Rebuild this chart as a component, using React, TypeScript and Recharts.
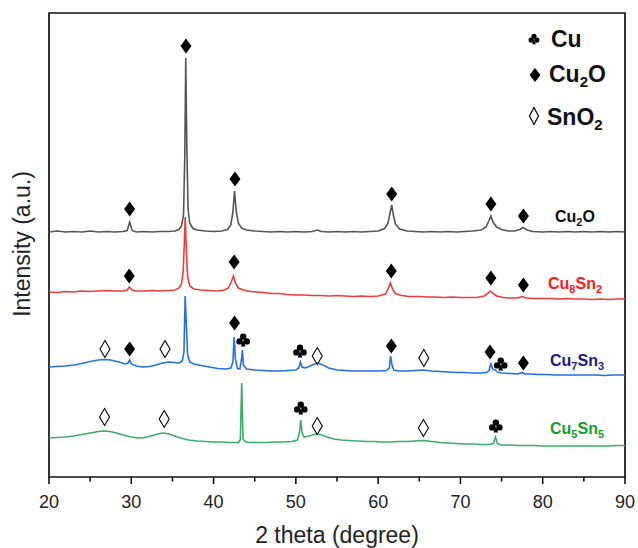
import React from 'react'
import { ComposedChart, Line, Scatter, XAxis, YAxis, ReferenceArea } from 'recharts'

// XRD patterns, stacked (intensity in a.u., offsets already included)
type Pt = [number, number]

const X_TICKS = [20, 25, 30, 35, 40, 45, 50, 55, 60, 65, 70, 75, 80, 85, 90]

const cu2o: Pt[] = [
  [20, 245], [21, 246], [22, 245], [23, 245.5], [24, 245], [25, 246], [26, 245], [27, 245.5], [28, 245], [29, 245.5],
  [29.5, 246.5], [29.8, 255], [30.1, 246.5], [30.6, 245], [31.5, 245.5], [32.5, 245], [33.5, 245.5], [34.5, 245.5],
  [35.3, 246], [35.8, 247.5], [36.1, 251], [36.35, 262], [36.5, 320], [36.62, 419], [36.75, 330], [36.9, 268],
  [37.1, 254], [37.5, 248.5], [38, 247], [39, 246], [40, 245.5], [41, 246], [41.7, 247.5], [42.1, 252], [42.35, 265],
  [42.55, 286], [42.75, 266], [43, 254], [43.4, 249], [44, 247], [45, 246], [46, 245.5], [47, 245], [48, 245.5],
  [49, 245], [50, 245.5], [51, 245], [52, 245.5], [52.6, 247], [53.1, 245.5], [54, 245], [55, 245.5], [56, 245],
  [57, 245.5], [58, 245], [59, 245.5], [60, 246], [60.8, 248.5], [61.2, 254], [61.45, 264], [61.65, 272],
  [61.85, 262], [62.1, 253], [62.6, 248], [63.5, 246], [64.5, 245.5], [65.5, 245], [66.5, 245.5], [67.5, 245],
  [68.5, 245.5], [69.5, 245], [70.5, 245.5], [71.5, 246], [72.5, 247], [73.1, 250], [73.45, 256], [73.7, 261],
  [73.95, 255], [74.4, 250], [75, 247.5], [75.8, 246], [76.6, 246], [77.2, 247.5], [77.6, 249.5], [78.1, 247],
  [78.8, 245.5], [80, 245], [81, 245.5], [82, 245], [83, 245.5], [84, 245], [85, 245.5], [86, 245], [87, 245.5],
  [88, 245], [89, 245.5], [90, 245],
]

const cu8sn2: Pt[] = [
  [20, 185], [21, 184.5], [22, 185.5], [23, 185], [24, 186], [25, 185.5], [26, 186], [27, 186.5], [28, 186], [29, 186],
  [29.5, 187], [29.75, 190], [30.1, 187], [30.6, 186], [31.5, 186], [32.5, 186.5], [33.5, 186], [34.5, 186.5],
  [35.3, 187], [35.8, 189], [36.1, 193], [36.3, 205], [36.45, 235], [36.55, 260], [36.7, 225], [36.85, 200],
  [37.1, 191], [37.6, 188], [38.5, 187], [39.5, 186.5], [40.5, 186], [41.3, 187], [41.8, 189], [42.15, 195],
  [42.42, 201], [42.65, 194], [43, 189], [43.6, 187], [44.5, 185.5], [46, 184.5], [47, 183.5], [48, 183.5],
  [49, 182.5], [50, 182], [51, 182], [52, 181.5], [53, 181.5], [54, 181], [55, 181.5], [56, 181], [57, 180.5],
  [58, 181], [59, 180.5], [60, 181], [60.9, 183], [61.25, 189], [61.5, 194], [61.75, 188], [62.1, 183.5],
  [62.8, 181.5], [63.8, 180.5], [65, 180.5], [66, 180], [67, 180], [68, 179.5], [69, 180], [70, 179.5], [71, 179.5],
  [72, 179.5], [72.9, 181], [73.4, 184], [73.65, 186], [73.9, 184], [74.4, 181], [75.2, 179.5], [76, 179],
  [77, 179], [77.5, 180.5], [78, 179], [79, 178.5], [80, 178.5], [81, 178.5], [82, 178], [83, 178.5], [84, 178],
  [85, 178], [86, 177.5], [87, 178], [88, 177.5], [89, 178], [90, 178],
]

const cu7sn3: Pt[] = [
  [20, 110], [21, 110.5], [22, 111], [23, 112], [24, 113.5], [25, 115.5], [26, 117], [26.8, 117.5], [27.5, 117],
  [28.5, 115], [29.3, 113], [29.6, 114], [29.8, 117], [30, 113], [30.6, 111], [31.4, 110], [32.2, 110.5], [33, 112],
  [33.8, 114], [34.5, 115], [35.2, 114.5], [35.8, 114], [36.2, 116], [36.4, 125], [36.55, 181], [36.7, 150],
  [36.85, 122], [37.1, 115], [37.6, 113], [38.5, 111.5], [39.5, 110], [40.5, 108.5], [41.5, 108], [42.1, 109],
  [42.35, 115], [42.5, 140], [42.65, 118], [42.9, 108.5], [43.2, 108], [43.4, 118], [43.5, 127], [43.62, 112],
  [44, 108], [45, 107], [46, 106.5], [47, 106], [48, 106], [49, 106.5], [50, 107], [50.35, 109], [50.55, 115],
  [50.75, 110], [51.2, 109], [52, 112], [52.6, 114], [53.3, 112], [54, 109], [55, 107], [56, 106.5], [57, 106],
  [58, 106], [59, 106], [60, 106], [61, 106.5], [61.35, 109], [61.52, 121], [61.68, 112], [61.9, 107], [62.5, 106],
  [63.5, 106], [64.5, 106.5], [65.5, 107], [66.5, 106], [67.5, 105.5], [68.5, 105], [69.5, 104.5], [70.5, 104.5],
  [71.5, 104], [72.5, 104], [73.2, 104.5], [73.5, 107], [73.7, 114], [73.9, 108], [74.2, 107], [74.5, 105],
  [75, 104], [76, 103.5], [77, 103], [77.5, 104.5], [77.8, 103], [78.5, 103], [79.5, 102.5], [80.5, 102.5],
  [81.5, 102], [82.5, 102], [83.5, 102], [84.5, 102], [85.5, 102], [86.5, 102], [87.5, 101.5], [88.5, 102],
  [89.5, 102], [90, 102],
]

const cu5sn5: Pt[] = [
  [20, 39], [21, 39.5], [22, 40], [23, 41], [24, 42.5], [25, 44], [26, 45.5], [26.7, 46], [27.4, 45.5], [28.2, 44],
  [29, 42], [30, 40], [30.8, 39], [31.6, 39.5], [32.4, 41], [33.2, 43], [33.9, 44], [34.6, 43], [35.4, 40.5],
  [36.2, 38.5], [37, 37], [38, 36], [39, 35.5], [40, 35], [41, 35], [42, 34.5], [43, 34.5], [43.25, 37],
  [43.42, 94], [43.58, 38], [43.9, 35], [44.5, 34.5], [45.5, 34.5], [46.5, 34.5], [47.5, 35], [48.5, 35],
  [49.5, 35.5], [50.2, 37], [50.45, 45], [50.6, 57], [50.75, 44], [51, 40], [51.6, 41], [52.4, 43], [53, 42.5],
  [53.8, 40], [54.6, 38], [55.5, 37], [56.5, 36.5], [57.5, 36], [58.5, 35.5], [59.5, 35.5], [60.5, 35], [61.5, 35],
  [62.5, 35.5], [63.5, 35.5], [64.5, 36], [65.5, 36.5], [66.5, 35.5], [67.5, 34.5], [68.5, 34], [69.5, 33.5],
  [70.5, 33], [71.5, 33], [72.5, 32.5], [73.5, 32.5], [74, 33.5], [74.25, 40], [74.5, 33.5], [75, 32], [76, 32],
  [77, 31.5], [78, 31.5], [79, 31.5], [80, 31], [81, 31], [82, 31], [83, 31], [84, 31], [85, 31], [86, 31],
  [87, 31], [88, 31], [89, 31.5], [90, 31.5],
]

// phase markers: Cu2O (filled diamond), SnO2 (open diamond), Cu (club)
const cu2oMarks: Pt[] = [
  [29.8, 268], [36.65, 431], [42.6, 298], [61.65, 283], [73.7, 273], [77.65, 261],
  [29.75, 201], [42.5, 215], [61.6, 206], [73.7, 199], [77.65, 192],
  [29.8, 128], [42.55, 154], [61.6, 131], [73.6, 125], [77.65, 114],
]
const sno2Marks: Pt[] = [
  [26.8, 128], [34.1, 128], [52.6, 121], [65.55, 119],
  [26.75, 60], [34.0, 58], [52.6, 51], [65.5, 49],
]
const cuMarks: Pt[] = [
  [43.6, 137], [50.5, 126], [74.9, 113],
  [50.6, 69], [74.3, 51],
]

const rows = (pts: Pt[]) => pts.map(([x, y]) => ({ x, y }))

const FONT = '"Liberation Sans", Arial, sans-serif'

const FilledDiamond = (p: any) => (
  <path d={`M${p.cx},${p.cy - 7.5}L${p.cx + 5.5},${p.cy}L${p.cx},${p.cy + 7.5}L${p.cx - 5.5},${p.cy}Z`} fill="#000" />
)
const OpenDiamond = (p: any) => (
  <path d={`M${p.cx},${p.cy - 8.5}L${p.cx + 5},${p.cy}L${p.cx},${p.cy + 8.5}L${p.cx - 5},${p.cy}Z`} fill="none" stroke="#000" strokeWidth={1.1} />
)
const Club = (p: any) => (
  <g transform={`translate(${p.cx},${p.cy}) scale(${p.s || 1})`} fill="#000">
    <circle cx={0} cy={-3.4} r={3.2} />
    <circle cx={-3.6} cy={1.4} r={3.2} />
    <circle cx={3.6} cy={1.4} r={3.2} />
    <path d="M0,0L-2.3,6.6L2.3,6.6Z" />
  </g>
)

const XTick = ({ x, y, payload }: any) => {
  const major = payload.value % 10 === 0
  return (
    <g>
      <line x1={x} x2={x} y1={y} y2={y + (major ? 7 : 4.5)} stroke="#000" strokeWidth={1.5} />
      {major && (
        <text x={x} y={y + 31} textAnchor="middle" fontSize={18} fontFamily={FONT} fill="#222">
          {payload.value}
        </text>
      )}
    </g>
  )
}

// chemical formula label: [[element, subscript], ...]
const SeriesLabel = ({ x, y, color, parts }: { x: number; y: number; color: string; parts: [string, string][] }) => (
  <text x={x} y={y} fill={color} fontSize={16} fontWeight="bold" fontFamily={FONT}>
    {parts.flatMap(([main, sub], i) => {
      const prevSub = i > 0 && parts[i - 1][1] !== ''
      const out = [<tspan key={`m${i}`} dy={prevSub ? -4 : 0} fontSize={16}>{main}</tspan>]
      if (sub) out.push(<tspan key={`s${i}`} dy={4} fontSize={11}>{sub}</tspan>)
      return out
    })}
  </text>
)

export default function App() {
  return (
    <div style={{ position: 'absolute', left: 0, top: 0, width: 638, height: 548, background: '#fff' }}>
      <ComposedChart width={638} height={548} margin={{ top: 13, right: 13, bottom: 0, left: 49 }}>
        <XAxis
          dataKey="x"
          type="number"
          domain={[20, 90]}
          ticks={X_TICKS}
          interval={0}
          height={71}
          axisLine={false}
          tickLine={false}
          tickSize={0}
          tickMargin={0}
          tick={<XTick />}
          allowDataOverflow
        />
        <YAxis type="number" domain={[0, 464]} hide allowDataOverflow />
        <ReferenceArea x1={20} x2={90} y1={0} y2={464} fill="none" stroke="#111" strokeWidth={1.7} ifOverflow="visible" />
        <Line data={rows(cu2o)} dataKey="y" type="linear" stroke="#555555" strokeWidth={1.6} dot={false} isAnimationActive={false} />
        <Line data={rows(cu8sn2)} dataKey="y" type="linear" stroke="#f03c3c" strokeWidth={1.6} dot={false} isAnimationActive={false} />
        <Line data={rows(cu7sn3)} dataKey="y" type="linear" stroke="#2370e0" strokeWidth={1.6} dot={false} isAnimationActive={false} />
        <Line data={rows(cu5sn5)} dataKey="y" type="linear" stroke="#3aae68" strokeWidth={1.6} dot={false} isAnimationActive={false} />
        <Scatter data={rows(cu2oMarks)} dataKey="y" shape={<FilledDiamond />} isAnimationActive={false} />
        <Scatter data={rows(sno2Marks)} dataKey="y" shape={<OpenDiamond />} isAnimationActive={false} />
        <Scatter data={rows(cuMarks)} dataKey="y" shape={<Club />} isAnimationActive={false} />
      </ComposedChart>
      <svg width={638} height={548} style={{ position: 'absolute', left: 0, top: 0, pointerEvents: 'none' }}>
        <text x={30} y={244} transform="rotate(-90 30 244)" textAnchor="middle" fontSize={23} fontFamily={FONT} fill="#222">
          Intensity (a.u.)
        </text>
        <text x={337} y={543} textAnchor="middle" fontSize={23} fontFamily={FONT} fill="#222">
          2 theta (degree)
        </text>
        {/* legend */}
        <Club cx={534} cy={39} s={0.8} />
        <text x={551} y={47} fontSize={23} fontWeight="bold" fontFamily={FONT} fill="#111">Cu</text>
        <path d="M535,68L540.5,75L535,82L529.5,75Z" fill="#000" />
        <text x={549} y={82} fontSize={23} fontWeight="bold" fontFamily={FONT} fill="#111">
          Cu<tspan dy={5} fontSize={15}>2</tspan><tspan dy={-5}>O</tspan>
        </text>
        <path d="M534,107.5L538.5,116L534,124.5L529.5,116Z" fill="none" stroke="#000" strokeWidth={1.2} />
        <text x={547} y={125} fontSize={23} fontWeight="bold" fontFamily={FONT} fill="#111">
          SnO<tspan dy={5} fontSize={15}>2</tspan>
        </text>
        {/* series labels */}
        <SeriesLabel x={555} y={222} color="#111" parts={[['Cu', '2'], ['O', '']]} />
        <SeriesLabel x={548} y={289} color="#ff1a1a" parts={[['Cu', '8'], ['Sn', '2']]} />
        <SeriesLabel x={550} y={366} color="#1a1a8c" parts={[['Cu', '7'], ['Sn', '3']]} />
        <SeriesLabel x={550} y={434} color="#169e2a" parts={[['Cu', '5'], ['Sn', '5']]} />
      </svg>
    </div>
  )
}
